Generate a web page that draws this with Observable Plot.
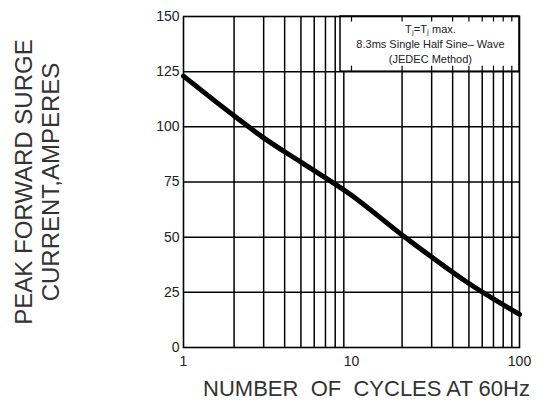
<!DOCTYPE html>
<html>
<head>
<meta charset="utf-8">
<script src="https://cdn.jsdelivr.net/npm/d3@7"></script>
<script src="https://cdn.jsdelivr.net/npm/@observablehq/plot@0.6"></script>
<style>
  html, body { margin: 0; padding: 0; background: #fff; }
  #chart svg { display: block; }
</style>
</head>
<body>
<div id="chart"></div>
<script>
// Data
const cycles  = [1, 2, 3, 5, 10, 20, 30, 50, 70, 100];
const current = [123, 105, 95, 84, 69, 51, 41, 29, 22, 15];

const xTicks = [1, 10, 100];
const yTicks = [0, 25, 50, 75, 100, 125, 150];
const xGrid = [2, 3, 4, 5, 6, 7, 8, 9, 20, 30, 40, 50, 60, 70, 80, 90];
const yGrid = [25, 50, 75, 100, 125];
const boxTicks = [10, 20, 30, 40, 50, 60, 70, 80, 90];
const noteLines = ["T\u2c7c=T\u2c7c max.", "8.3ms Single Half Sine\u2013 Wave", "(JEDEC Method)"];
const yLabel = "PEAK FORWARD SURGE\nCURRENT,AMPERES";
const xLabel = "NUMBER  OF  CYCLES AT 60Hz";

const data = cycles.map((c, i) => ({cycles: c, current: current[i]}));

const chart = Plot.plot({
  width: 547,
  height: 411,
  marginLeft: 183,
  marginRight: 28,
  marginTop: 16,
  marginBottom: 64,
  style: {fontFamily: "'Liberation Sans', Arial, sans-serif", background: "#fff", color: "#222"},
  x: {type: "log", domain: [1, 100]},
  y: {domain: [0, 150]},
  marks: [
    Plot.ruleX(xGrid, {stroke: "#000", strokeWidth: 1.5}),
    Plot.ruleY(yGrid, {stroke: "#000", strokeWidth: 1.5}),
    // annotation box
    Plot.rect([{x1: 8.6, x2: 100, y1: 125, y2: 150}], {x1: "x1", x2: "x2", y1: "y1", y2: "y2", fill: "#fff", stroke: "#000", strokeWidth: 1.5}),
    Plot.ruleX(boxTicks, {y1: 150, y2: 147.5, stroke: "#000", strokeWidth: 1.2}),
    Plot.ruleX(boxTicks, {y1: 125, y2: 127.5, stroke: "#000", strokeWidth: 1.2}),
    Plot.text(noteLines, {x: () => 29.5, y: (d, i) => 144 - i * 6.7, text: d => d, fontSize: 11, fill: "#222", textAnchor: "middle", letterSpacing: -0.2}),
    Plot.frame({stroke: "#000", strokeWidth: 1.6}),
    Plot.line(data, {x: "cycles", y: "current", stroke: "#000", strokeWidth: 5, curve: "monotone-x"}),
    Plot.axisX(xTicks, {tickSize: 0, tickPadding: 9, fontSize: 14, label: null, tickFormat: d => String(d)}),
    Plot.axisY(yTicks, {tickSize: 0, tickPadding: 4, fontSize: 14, label: null}),
    Plot.text([yLabel], {frameAnchor: "left", dx: -147, rotate: -90, fontSize: 24, lineHeight: 1.12, fill: "#333", textAnchor: "middle"}),
    Plot.text([xLabel], {frameAnchor: "bottom", dx: 15, dy: 48, fontSize: 22, fill: "#333", textAnchor: "middle", letterSpacing: -1.5})
  ]
});

document.getElementById("chart").appendChild(chart);
</script>
</body>
</html>
